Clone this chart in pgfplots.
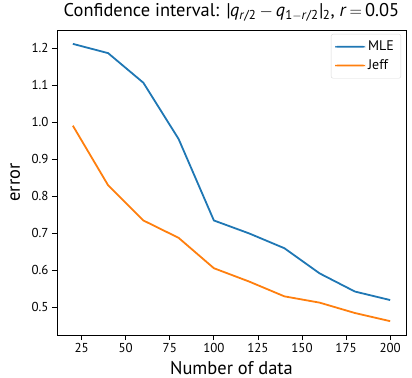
\documentclass[border=0pt]{standalone}
\usepackage{pgfplots}
\pgfplotsset{compat=1.18}
\usepackage{fontspec}
\setmainfont{PT Sans}
\definecolor{mblue}{HTML}{1F77B4}
\definecolor{morange}{HTML}{FF7F0E}
\begin{document}
\begin{tikzpicture}[x=1bp,y=1bp]
\useasboundingbox (-57bp,-43bp) rectangle (355bp,335bp);
\begin{axis}[
  at={(0,0)}, anchor=south west,
  scale only axis,
  width=349bp, height=305bp,
  xmin=11, xmax=209, ymin=0.4256, ymax=1.2495,
  xtick={25,50,75,100,125,150,175,200},
  ytick={0.5,0.6,0.7,0.8,0.9,1.0,1.1,1.2},
  yticklabel style={/pgf/number format/.cd,fixed,fixed zerofill,precision=1},
  /pgf/number format/assume math mode=true,
  axis line style={line width=0.8bp},
  tick align=outside, xtick pos=bottom, ytick pos=left,
  major tick length=5bp,
  every tick/.style={black, line width=0.8bp},
  tick label style={font=\fontsize{13}{15}\selectfont},
  xlabel={Number of data}, ylabel={error},
  label style={font=\fontsize{18.5}{20}\selectfont},
  ylabel style={at={(axis description cs:0,0.5)}, anchor=base, yshift=37bp},
  xlabel style={at={(axis description cs:0.5,0)}, anchor=base, yshift=-39bp},
  title={Confidence interval: \textit{|q}\textsubscript{\textit{r}/2}\,$-$\,\textit{q}\textsubscript{1$-$\textit{r}/2}\textit{|}\textsubscript{2}, \textit{r}\,$=$\,0.05},
  title style={font=\fontsize{18.5}{20}\selectfont, at={(axis description cs:0.5,1)}, anchor=base, yshift=8bp},
  legend style={font=\fontsize{14}{16}\selectfont, draw=black!15, rounded corners=2pt, inner sep=4pt,
    at={(axis description cs:1,1)}, anchor=north east, xshift=-5bp, yshift=-4bp,
    row sep=1.5bp, nodes={inner sep=3pt}},
  legend cell align=left,
  legend image code/.code={\fill[#1, draw=none] (0bp,-0.9bp) rectangle (30bp,0.9bp);},
]
\addplot[mblue, line width=1.8bp] coordinates {(20,1.212)(40,1.187)(60,1.107)(80,0.955)(100,0.735)(120,0.700)(140,0.660)(160,0.592)(180,0.543)(200,0.520)};
\addlegendentry{MLE}
\addplot[morange, line width=1.8bp] coordinates {(20,0.991)(40,0.830)(60,0.735)(80,0.688)(100,0.606)(120,0.570)(140,0.530)(160,0.513)(180,0.485)(200,0.463)};
\addlegendentry{Jeff}
\end{axis}
\end{tikzpicture}
\end{document}
